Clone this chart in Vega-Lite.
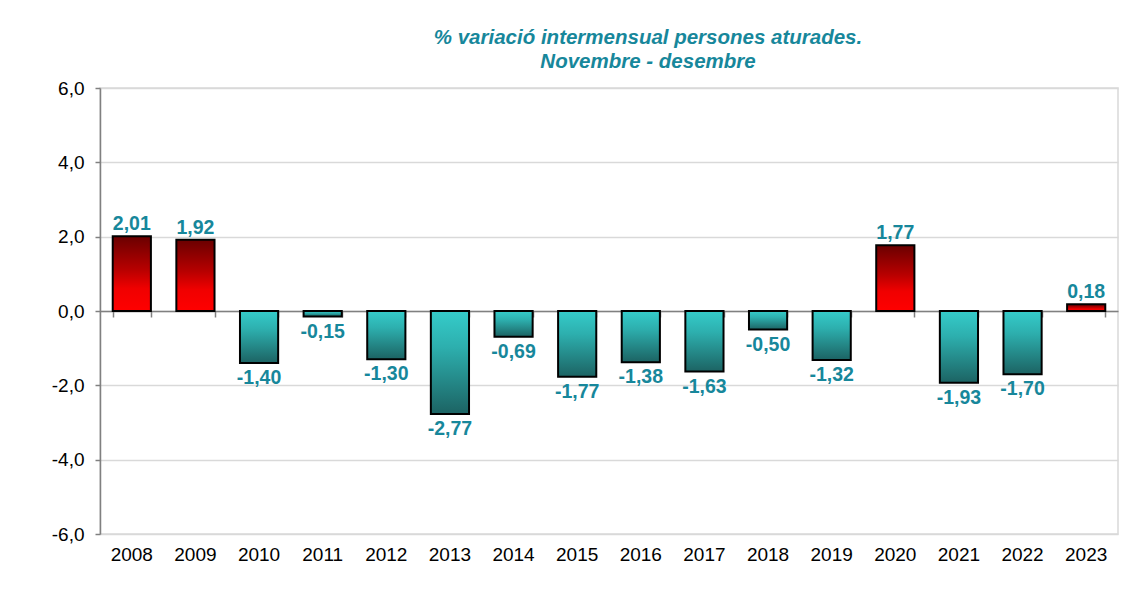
{
  "$schema": "https://vega.github.io/schema/vega-lite/v6.json",
  "width": 1018,
  "height": 446,
  "autosize": {"type": "none"},
  "padding": {"left": 100, "top": 88, "right": 13, "bottom": 63},
  "background": "white",
  "config": {
    "view": {"stroke": "#D9D9D9", "strokeWidth": 1.5},
    "font": "Liberation Sans",
    "locale": {"number": {"decimal": ",", "thousands": ".", "grouping": [3], "currency": ["", " €"], "minus": "-"}}
  },
  "title": {
    "text": ["% variació intermensual persones aturades.", "Novembre - desembre"],
    "font": "Liberation Sans",
    "fontSize": 20.5,
    "fontStyle": "italic",
    "fontWeight": "bold",
    "color": "#17879B",
    "anchor": "middle",
    "dx": 39,
    "offset": 7,
    "lineHeight": 24
  },
  "data": {
    "values": [
      {"any": "2008", "valor": 2.01},
      {"any": "2009", "valor": 1.92},
      {"any": "2010", "valor": -1.40},
      {"any": "2011", "valor": -0.15},
      {"any": "2012", "valor": -1.30},
      {"any": "2013", "valor": -2.77},
      {"any": "2014", "valor": -0.69},
      {"any": "2015", "valor": -1.77},
      {"any": "2016", "valor": -1.38},
      {"any": "2017", "valor": -1.63},
      {"any": "2018", "valor": -0.50},
      {"any": "2019", "valor": -1.32},
      {"any": "2020", "valor": 1.77},
      {"any": "2021", "valor": -1.93},
      {"any": "2022", "valor": -1.70},
      {"any": "2023", "valor": 0.18}
    ]
  },
  "layer": [
    {
      "transform": [{"filter": "datum.valor < 0"}],
      "mark": {
        "type": "bar",
        "stroke": "black",
        "strokeWidth": 2,
        "fill": {
          "gradient": "linear", "x1": 0, "y1": 0, "x2": 0, "y2": 1,
          "stops": [
            {"offset": 0, "color": "#35CCCA"},
            {"offset": 0.35, "color": "#2DAFAE"},
            {"offset": 1, "color": "#1C6363"}
          ]
        }
      },
      "encoding": {
        "x": {
          "field": "any", "type": "ordinal", "sort": null,
          "scale": {"domain": ["2008","2009","2010","2011","2012","2013","2014","2015","2016","2017","2018","2019","2020","2021","2022","2023"], "paddingInner": 0.4, "paddingOuter": 0.2},
          "axis": {
            "orient": "bottom", "offset": -223, "labels": false, "title": null,
            "domain": true, "domainColor": "#808080", "domainWidth": 1.5,
            "ticks": true, "tickBand": "extent", "tickColor": "#808080", "tickSize": 6, "tickWidth": 1.5,
            "grid": false
          }
        },
        "y": {
          "field": "valor", "type": "quantitative",
          "scale": {"domain": [-6, 6], "nice": false, "zero": true},
          "axis": {
            "title": null, "values": [-6, -4, -2, 0, 2, 4, 6], "format": ".1f",
            "labelFontSize": 19, "labelColor": "black", "labelPadding": 11,
            "domain": true, "domainColor": "#808080", "domainWidth": 1.5,
            "ticks": true, "tickColor": "#808080", "tickSize": 5, "tickWidth": 1.5,
            "grid": true, "gridColor": "#D9D9D9", "gridWidth": 1.5
          }
        }
      }
    },
    {
      "transform": [{"filter": "datum.valor > 0"}],
      "mark": {
        "type": "bar",
        "stroke": "black",
        "strokeWidth": 2,
        "fill": {
          "gradient": "linear", "x1": 0, "y1": 0, "x2": 0, "y2": 1,
          "stops": [
            {"offset": 0, "color": "#6A0000"},
            {"offset": 0.45, "color": "#B80000"},
            {"offset": 0.7, "color": "#F00000"},
            {"offset": 1, "color": "#FF0000"}
          ]
        }
      },
      "encoding": {
        "x": {
          "field": "any", "type": "ordinal", "sort": null,
          "axis": {
            "orient": "bottom", "title": null, "labelAngle": 0,
            "labelFontSize": 19, "labelColor": "black", "labelPadding": 11,
            "domain": false, "ticks": false, "grid": false
          }
        },
        "y": {"field": "valor", "type": "quantitative"}
      }
    },
    {
      "transform": [{"filter": "datum.valor > 0"}],
      "mark": {"type": "text", "baseline": "alphabetic", "dy": -6, "fontSize": 19.5, "fontWeight": "bold", "color": "#17879B"},
      "encoding": {
        "x": {"field": "any", "type": "ordinal", "sort": null, "axis": null},
        "y": {"field": "valor", "type": "quantitative"},
        "text": {"field": "valor", "type": "quantitative", "format": ".2f"}
      }
    },
    {
      "transform": [{"filter": "datum.valor < 0"}],
      "mark": {"type": "text", "baseline": "top", "dy": 6, "fontSize": 19.5, "fontWeight": "bold", "color": "#17879B"},
      "encoding": {
        "x": {"field": "any", "type": "ordinal", "sort": null, "axis": null},
        "y": {"field": "valor", "type": "quantitative"},
        "text": {"field": "valor", "type": "quantitative", "format": ".2f"}
      }
    }
  ],
  "resolve": {"axis": {"x": "independent"}}
}
